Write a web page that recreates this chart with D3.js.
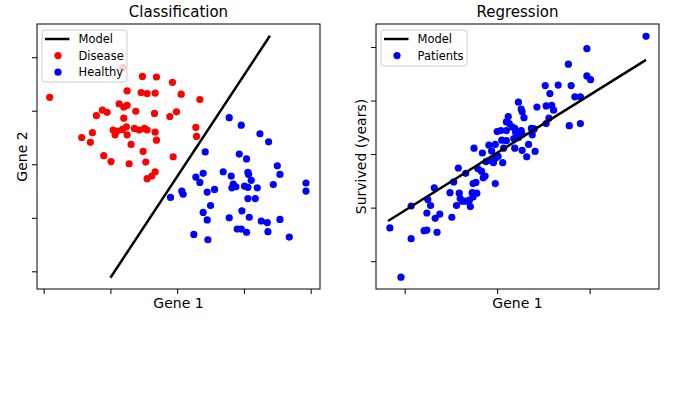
<!DOCTYPE html>
<html>
<head>
<meta charset="utf-8">
<script src="https://cdn.jsdelivr.net/npm/d3@7"></script>
<style>
  body { margin: 0; background: #fff; }
  svg text { font-family: "DejaVu Sans", sans-serif; fill: #000; }
</style>
</head>
<body>
<svg id="chart" width="675" height="399"></svg>
<script>
// ---- Classification panel data ----
const diseaseX = [-0.81, -0.52, -0.31, -0.07, -1.91, -0.75, -0.54, -0.45, -0.33, 0.06, 0.34, -0.87, -0.75, -0.80, -1.12, -1.05, -0.62,
  -0.34, -0.01, -0.11, -1.21, -0.80, -0.76, -0.64, -0.57, -0.49, -0.45, -0.96, -0.90, -0.82, -0.93, -0.75, -0.33, -0.31, -1.27, -1.43,
  -1.30, -0.69, 0.28, 0.29, -0.51, -1.10, -0.99, -0.72, -0.47, -0.06, -0.33, -0.38, -0.45];
const diseaseY = [1.81, 1.64, 1.63, 1.53, 1.25, 1.37, 1.34, 1.32, 1.33, 1.31, 1.21, 1.13, 1.10, 1.07, 1.01, 0.97, 0.99,
  0.95, 0.98, 0.89, 0.91, 0.86, 0.70, 0.67, 0.64, 0.67, 0.64, 0.64, 0.62, 0.65, 0.55, 0.55, 0.60, 0.45, 0.59, 0.50,
  0.41, 0.37, 0.69, 0.52, 0.24, 0.16, 0.05, 0.01, 0.04, 0.14, -0.14, -0.22, -0.27];
const healthyX = [0.78, 0.96, 1.24, 1.37, 0.42, 0.93, 1.04, 1.50, 1.54, 0.69, 0.81, 1.06, 1.07, 1.11, 0.39, 0.28, 0.34,
  0.56, 0.45, 0.84, 0.82, 0.88, 1.01, 1.06, 1.20, 1.44, 1.93, 1.93, 1.06, 1.17, -0.10, 0.07, 0.09, 0.50, 0.39, 0.45,
  0.97, 1.08, 0.78, 1.26, 1.35, 1.54, 0.90, 0.96, 1.04, 1.36, 0.25, 0.46, 1.68];
const healthyY = [0.87, 0.73, 0.57, 0.42, 0.23, 0.19, 0.10, -0.03, -0.19, -0.14, -0.22, -0.15, -0.19, -0.30, -0.17, -0.24, -0.34,
  -0.47, -0.52, -0.37, -0.44, -0.42, -0.41, -0.43, -0.44, -0.38, -0.35, -0.50, -0.64, -0.64, -0.62, -0.50, -0.56, -0.77, -0.90, -1.04,
  -0.87, -0.99, -1.00, -1.06, -1.09, -1.03, -1.21, -1.21, -1.27, -1.26, -1.31, -1.41, -1.36];
const classLineX = [-1.00, 1.39];
const classLineY = [-2.12, 2.40];
const classTicksX = [-2, -1, 0, 1, 2];
const classTicksY = [-2, -1, 0, 1, 2];

// ---- Regression panel data ----
const patientsX = [-1.04, -1.16, -0.93, -0.93, -0.79, -0.76, -0.65, -0.76, -0.67, -0.62, -0.72, -0.75, -0.68, -0.49, -0.51, -0.44,
  -0.41, -0.40, -0.38, -0.34, -0.30, -0.29, -0.26, -0.22, -0.27, -0.26, -0.23, -0.47, -0.42, -0.34, -0.25, -0.21, -0.17, -0.15,
  -0.13, -0.16, -0.09, -0.06, -0.12, -0.09, -0.04, -0.02, 0.06, -0.02, 0.01, -0.02, 0.05, 0.10, 0.18, 0.23, 0.07, 0.19, 0.27,
  0.34, 0.41, 0.32, 0.00, 0.04, 0.10, 0.19, 0.20, 0.26, 0.27, 0.37, 0.40, 0.38, 0.12, 0.10, 0.13, 0.16, 0.23, 0.26, 0.27, 0.29,
  0.43, 0.53, 0.59, 0.61, 0.56, 0.53, 0.78, 0.90, 0.57, 0.52, 0.66, 0.80, 0.84, 0.90, 0.77, 0.97, 0.97, 1.01, 1.61];
const patientsY = [-2.30, -1.38, -1.58, -0.97, -1.43, -1.42, -1.46, -1.10, -1.20, -1.12, -0.96, -0.85, -0.63, -1.18, -0.72, -0.96,
  -0.73, -0.83, -0.88, -0.88, -0.86, -0.98, -0.80, -0.73, -0.72, -0.55, -0.53, -0.52, -0.26, -0.36, 0.11, -0.27, -0.32, -0.44,
  -0.41, 0.02, 0.17, 0.06, -0.14, -0.12, -0.16, -0.08, -0.16, -0.55, -0.04, 0.18, 0.26, 0.25, 0.29, 0.31, 0.11, 0.11, 0.07,
  0.18, 0.05, -0.05, 0.42, 0.44, 0.44, 0.48, 0.41, 0.44, 0.37, 0.48, 0.47, 0.36, 0.70, 0.60, 0.57, 0.51, 0.97, 0.84, 0.79, 0.68,
  0.88, 0.90, 0.91, 0.82, 0.67, 0.57, 0.53, 0.57, 1.13, 1.28, 1.29, 1.28, 1.07, 1.07, 1.68, 1.97, 1.46, 1.39, 2.20];
const regLineX = [-1.18, 1.61];
const regLineY = [-1.25, 1.76];
const regTicksX = [-1, 0, 1];
const regTicksY = [-2, -1, 0, 1, 2];

const svg = d3.select('#chart');

function drawPanel(opts) {
  const { left, top, width, height, xDomain, yDomain, xTicks, yTicks } = opts;

  const x = d3.scaleLinear().domain(xDomain).range([0, width]);
  const y = d3.scaleLinear().domain(yDomain).range([height, 0]);

  const g = svg.append('g').attr('transform', `translate(${left},${top})`);

  // ticks only, no labels
  g.append('g')
    .attr('transform', `translate(0,${height})`)
    .call(d3.axisBottom(x).tickValues(xTicks).tickFormat('').tickSize(5).tickSizeOuter(0))
    .call(a => a.select('.domain').remove())
    .selectAll('line').attr('stroke', '#000').attr('stroke-width', 1);

  g.append('g')
    .call(d3.axisLeft(y).tickValues(yTicks).tickFormat('').tickSize(5).tickSizeOuter(0))
    .call(a => a.select('.domain').remove())
    .selectAll('line').attr('stroke', '#000').attr('stroke-width', 1);

  return { g, x, y };
}

function addPoints(p, xs, ys, color) {
  p.g.append('g')
    .selectAll('circle')
    .data(xs.map((v, i) => [v, ys[i]]))
    .enter()
    .append('circle')
    .attr('cx', d => p.x(d[0]))
    .attr('cy', d => p.y(d[1]))
    .attr('r', 3.6)
    .attr('fill', color);
}

function addLine(p, xs, ys) {
  const line = d3.line().x(d => p.x(d[0])).y(d => p.y(d[1]));
  p.g.append('path')
    .datum(xs.map((v, i) => [v, ys[i]]))
    .attr('d', line)
    .attr('fill', 'none')
    .attr('stroke', '#000')
    .attr('stroke-width', 2.5);
}

function addFrame(p, opts, title, xLabel, yLabel) {
  p.g.append('rect')
    .attr('width', opts.width)
    .attr('height', opts.height)
    .attr('fill', 'none')
    .attr('stroke', '#000')
    .attr('stroke-width', 1);

  p.g.append('text')
    .attr('x', opts.width / 2)
    .attr('y', -7)
    .attr('text-anchor', 'middle')
    .style('font-size', '15px')
    .text(title);

  p.g.append('text')
    .attr('x', opts.width / 2)
    .attr('y', opts.height + 19)
    .attr('text-anchor', 'middle')
    .style('font-size', '14px')
    .text(xLabel);

  p.g.append('text')
    .attr('transform', `translate(-10,${opts.height / 2}) rotate(-90)`)
    .attr('text-anchor', 'middle')
    .style('font-size', '14px')
    .text(yLabel);
}

function addLegend(p, items, boxW, boxH) {
  const lg = p.g.append('g').attr('transform', 'translate(5,6)');
  lg.append('rect')
    .attr('width', boxW)
    .attr('height', boxH)
    .attr('rx', 3)
    .attr('fill', '#fff')
    .attr('fill-opacity', 0.8)
    .attr('stroke', '#ccc');

  items.forEach((it, i) => {
    const cy = 9 + i * 16.6;
    if (it.type === 'line') {
      lg.append('line')
        .attr('x1', 3).attr('x2', 27.5)
        .attr('y1', cy).attr('y2', cy)
        .attr('stroke', '#000').attr('stroke-width', 2.5);
    } else {
      lg.append('circle')
        .attr('cx', 16).attr('cy', cy)
        .attr('r', 3.6)
        .attr('fill', it.color);
    }
    lg.append('text')
      .attr('x', 36.5)
      .attr('y', cy)
      .attr('dy', '0.35em')
      .style('font-size', '11.5px')
      .text(it.label);
  });
}

// left: classification
const classOpts = { left: 37, top: 24, width: 283, height: 265,
  xDomain: [-2.10, 2.14], yDomain: [-2.33, 2.62], xTicks: classTicksX, yTicks: classTicksY };
const cls = drawPanel(classOpts);
addPoints(cls, diseaseX, diseaseY, '#ff0000');
addPoints(cls, healthyX, healthyY, '#0000ff');
addLine(cls, classLineX, classLineY);
addFrame(cls, classOpts, 'Classification', 'Gene 1', 'Gene 2');
addLegend(cls, [
  { type: 'line', label: 'Model' },
  { type: 'dot', color: '#ff0000', label: 'Disease' },
  { type: 'dot', color: '#0000ff', label: 'Healthy' }
], 85, 52);

// right: regression
const regOpts = { left: 376, top: 24, width: 283, height: 265,
  xDomain: [-1.31, 1.75], yDomain: [-2.52, 2.43], xTicks: regTicksX, yTicks: regTicksY };
const reg = drawPanel(regOpts);
addPoints(reg, patientsX, patientsY, '#0000ff');
addLine(reg, regLineX, regLineY);
addFrame(reg, regOpts, 'Regression', 'Gene 1', 'Survived (years)');
addLegend(reg, [
  { type: 'line', label: 'Model' },
  { type: 'dot', color: '#0000ff', label: 'Patients' }
], 86, 36);
</script>
</body>
</html>
